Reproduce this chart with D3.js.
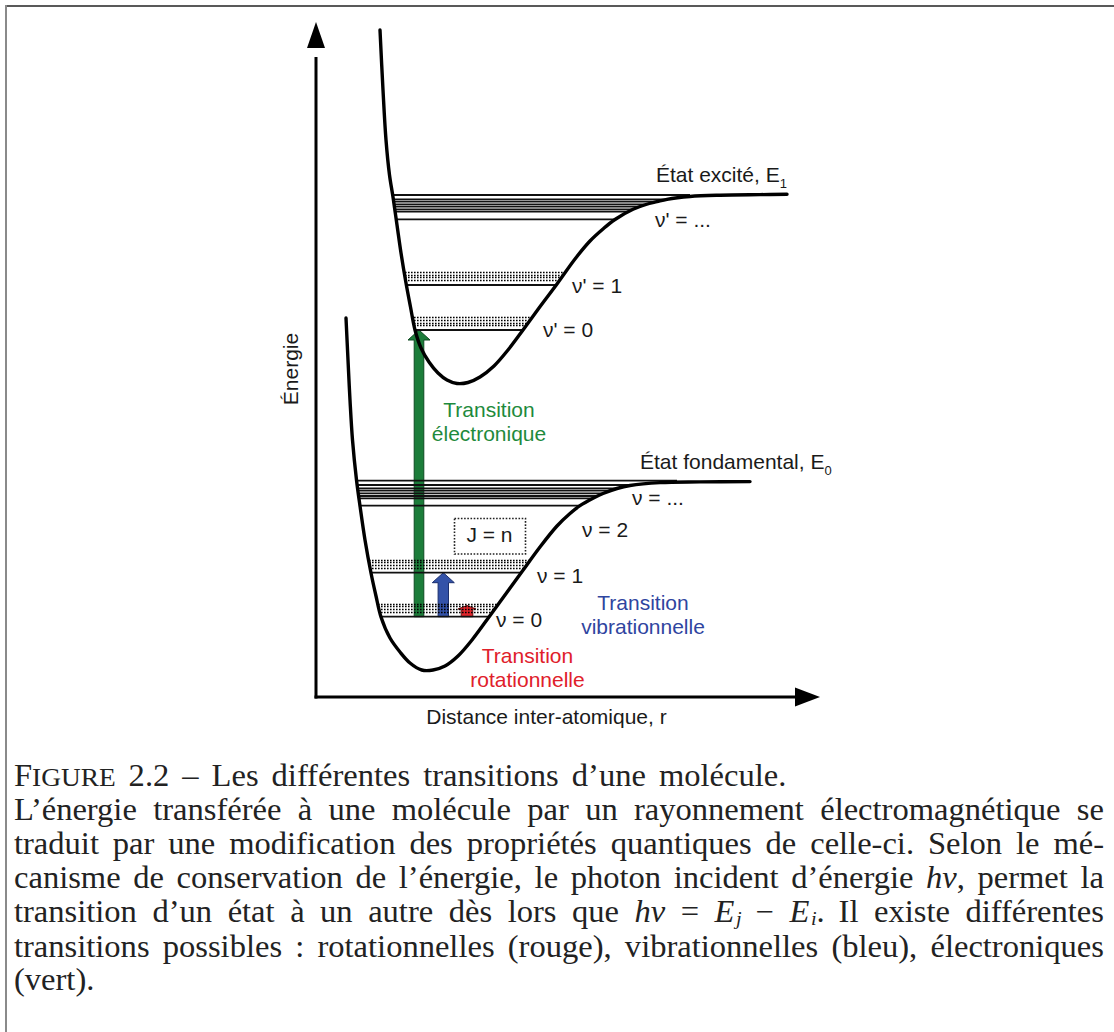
<!DOCTYPE html>
<html lang="fr">
<head>
<meta charset="utf-8">
<title>Transitions d’une molécule</title>
<script src="https://cdn.jsdelivr.net/npm/d3@7/dist/d3.min.js"></script>
<style>
  html, body { margin: 0; padding: 0; background: #fff; }
  svg { display: block; }
</style>
</head>
<body>
<svg id="fig" width="1114" height="1032"></svg>
<script>
// ---------- Data: potential curves as (r, E) pairs, arbitrary units ----------
const excitedCurve = [
  [64,667],[67,607],[70,557],[73.5,522],[77,500],[81,472],[85,444],[90,414],
  [94.5,390],[99,367],[105,349],[113,335],[122,324],[131,317],[141,313.5],
  [152,314.5],[164,320],[178,331],[192,347],[207,367],[223,389],[241,413],
  [259,438],[274,456],[287,468],[299,477.5],[317,487.7],[330,492.5],
  [341,495.3],[351,497.7],[374,500.5],[404,501.8],[444,502.4],[471,502.7]
];
const groundCurve = [
  [30,379],[32,337],[34,297],[36.5,257],[40.5,217],[44,191],[49,157],[55,124],
  [60,101],[65,80],[74,59],[84,45],[94,34],[105.7,27],[117,27],[129,31],
  [142,41],[156,57],[173,80],[189,102],[205,124],[224,150],[241,171],
  [254,183.5],[264,191.3],[277,198.7],[287,203.5],[301,208.5],[314,211.5],
  [344,214.4],[384,215.1],[434,215.4]
];

// Vibrational levels (E); each limit is [E, r where the dissociation line stops]
const excitedLevels = [367, 412, 477.7, 485.3, 487.7, 490.3, 492.7, 495.3, 497.7];
const excitedLimit = [502, 374];
const groundLevels = [80.3, 124.3, 191.3, 198.7, 201, 203.7, 206.3, 208.7, 212];
const groundLimit = [216.3, 361];

// Rotational sub-levels drawn as dotted rows above v = 0 and v = 1
const excitedRotBands = [[372, 374.3, 377, 380.3], [417, 419.7, 422, 425.3]];
const groundRotBands = [[85.3, 88, 90.7, 93.5], [129.3, 132, 134.8, 137.5]];

// Transitions: position r, start level E, end level E
const transitionNames = ["électronique", "vibrationnelle", "rotationnelle"];
const transitionR = [103, 127.3, 151];
const transitionFrom = [80.3, 80.3, 80.3];
const transitionTo = [367, 124.3, 91.5];

// Level labels
const groundLabels = ["ν = 0", "ν = 1", "ν = 2", "ν = ..."];
const excitedLabels = ["ν' = 0", "ν' = 1", "ν' = ..."];

// Caption text
const captionTitle = ["F{IGURE}", "2.2", "–", "Les", "différentes", "transitions", "d’une", "molécule."];
const captionLines = [
  "L’énergie transférée à une molécule par un rayonnement électromagnétique se",
  "traduit par une modification des propriétés quantiques de celle-ci. Selon le mé-",
  "canisme de conservation de l’énergie, le photon incident d’énergie *hν*, permet la",
  "transition d’un état à un autre dès lors que *hν* = *E*_j − *E*_i. Il existe différentes",
  "transitions possibles : rotationnelles (rouge), vibrationnelles (bleu), électroniques",
  "(vert)."
];

// ---------- Drawing ----------
const svg = d3.select("#fig");
const sans = "'Liberation Sans', Arial, sans-serif";
const serif = "'Liberation Serif', 'Times New Roman', serif";
const ink = "#1a1a1a";

const x = d3.scaleLinear().domain([0, 500]).range([316, 816]);
const y = d3.scaleLinear().domain([0, 675]).range([697, 22]);

// Frame around figure
svg.append("line").attr("x1", 5).attr("x2", 1114).attr("y1", 6).attr("y2", 6)
  .attr("stroke", "#222").attr("stroke-width", 1.4);
svg.append("line").attr("x1", 6).attr("x2", 6).attr("y1", 5).attr("y2", 1032)
  .attr("stroke", "#8a8a8a").attr("stroke-width", 2);

const chart = svg.append("g");

// Potential curve paths
const lineGen = d3.line().x(d => x(d[0])).y(d => y(d[1])).curve(d3.curveCatmullRom.alpha(0.5));
const curveLayer = chart.append("g").attr("class", "curves");
const excitedPath = curveLayer.append("path").datum(excitedCurve).attr("d", lineGen);
const groundPath = curveLayer.append("path").datum(groundCurve).attr("d", lineGen);

function sample(pathNode, n) {
  const L = pathNode.getTotalLength();
  const pts = [];
  for (let i = 0; i <= n; i++) {
    const p = pathNode.getPointAtLength(L * i / n);
    pts.push([p.x, p.y]);
  }
  return pts;
}
// left / right intersections of a horizontal line with a well-shaped curve
function crossings(pts, py) {
  const iMin = d3.maxIndex(pts, p => p[1]);
  let left = null, right = null;
  for (let i = 0; i < iMin; i++) {
    const a = pts[i], b = pts[i + 1];
    if ((a[1] - py) * (b[1] - py) <= 0 && a[1] !== b[1]) {
      left = a[0] + (b[0] - a[0]) * (py - a[1]) / (b[1] - a[1]); break;
    }
  }
  for (let i = pts.length - 2; i >= iMin; i--) {
    const a = pts[i], b = pts[i + 1];
    if ((a[1] - py) * (b[1] - py) <= 0 && a[1] !== b[1]) {
      right = a[0] + (b[0] - a[0]) * (py - a[1]) / (b[1] - a[1]);
    }
  }
  return [left, right];
}
const excitedPts = sample(excitedPath.node(), 3000);
const groundPts = sample(groundPath.node(), 3000);

// Transition arrows (beneath the levels)
const arrowFill = ["#1c7d3a", "#3352a8", "#e2252b"];
const arrowEdge = ["#0e4a22", "#1b2f6e", "#6a1010"];
const arrowShaft = [4.8, 5.2, 5.8];
const arrowHead = [[11, 10], [11, 10], [9, 3.5]];
const arrowLayer = chart.append("g");
transitionNames.forEach((name, i) => {
  const cx = x(transitionR[i]), y0 = y(transitionFrom[i]), y1 = y(transitionTo[i]);
  const sh = arrowShaft[i], hh = arrowHead[i][0], hl = arrowHead[i][1];
  const pts = [[cx - sh, y0], [cx - sh, y1 + hl], [cx - hh, y1 + hl], [cx, y1],
               [cx + hh, y1 + hl], [cx + sh, y1 + hl], [cx + sh, y0]];
  arrowLayer.append("polygon").attr("points", pts.map(p => p.join(",")).join(" "))
    .attr("fill", arrowFill[i]).attr("stroke", arrowEdge[i]).attr("stroke-width", 1)
    .attr("stroke-linejoin", "miter");
});

// Vibrational levels
const levelLayer = chart.append("g");
function drawLevels(levels, limit, pts) {
  levels.forEach(E => {
    const [l, r] = crossings(pts, y(E));
    levelLayer.append("line").attr("x1", l).attr("x2", r).attr("y1", y(E)).attr("y2", y(E))
      .attr("stroke", "#111").attr("stroke-width", 1.8);
  });
  const [l] = crossings(pts, y(limit[0]));
  levelLayer.append("line").attr("x1", l).attr("x2", x(limit[1]))
    .attr("y1", y(limit[0])).attr("y2", y(limit[0]))
    .attr("stroke", "#111").attr("stroke-width", 1.8);
}
drawLevels(excitedLevels, excitedLimit, excitedPts);
drawLevels(groundLevels, groundLimit, groundPts);

// Rotational sub-levels: dotted rows on a common dot grid
const dotPeriod = 3;
function drawBands(bands, pts) {
  bands.forEach(rows => rows.forEach(E => {
    const py = Math.round(y(E)) + 0.5;
    const [l, r] = crossings(pts, y(E));
    levelLayer.append("line").attr("x1", l).attr("x2", r).attr("y1", py).attr("y2", py)
      .attr("stroke", "#000").attr("stroke-width", 1.4)
      .attr("stroke-dasharray", "1.6,1.4")
      .attr("stroke-dashoffset", ((l % dotPeriod) + dotPeriod) % dotPeriod);
  }));
}
drawBands(excitedRotBands, excitedPts);
drawBands(groundRotBands, groundPts);

// Curves on top
curveLayer.raise();
curveLayer.selectAll("path").attr("fill", "none").attr("stroke", "#000")
  .attr("stroke-width", 3.4).attr("stroke-linecap", "round");

// Axes with arrow heads
const axes = chart.append("g");
axes.append("line").attr("x1", x(0)).attr("x2", x(0)).attr("y1", y(0) + 1.5).attr("y2", y(640))
  .attr("stroke", "#000").attr("stroke-width", 3);
axes.append("polygon").attr("points",
  [[x(0), y(675)], [x(0) - 9, y(649)], [x(0) + 9, y(649)]].map(p => p.join(",")).join(" "))
  .attr("fill", "#000");
axes.append("line").attr("x1", x(0) - 1.5).attr("x2", x(484)).attr("y1", y(0)).attr("y2", y(0))
  .attr("stroke", "#000").attr("stroke-width", 3);
axes.append("polygon").attr("points",
  [[x(504), y(0)], [x(479), y(0) - 9.5], [x(479), y(0) + 9.5]].map(p => p.join(",")).join(" "))
  .attr("fill", "#000");

// Text helpers
function label(txt, px, py, opt = {}) {
  const t = chart.append("text").attr("x", px).attr("y", py)
    .attr("font-family", sans).attr("font-size", opt.size || 21)
    .attr("fill", opt.color || ink).attr("text-anchor", opt.anchor || "start");
  if (opt.sub !== undefined) {
    t.append("tspan").text(txt);
    t.append("tspan").text(opt.sub).attr("font-size", 13).attr("dy", 6);
  } else t.text(txt);
  return t;
}

chart.append("text").attr("transform", `translate(298,369) rotate(-90)`)
  .attr("font-family", sans).attr("font-size", 21).attr("fill", ink)
  .attr("text-anchor", "middle").text("Énergie");
label("Distance inter-atomique, r", x(230.5), 724, { anchor: "middle" });

label("État excité, E", 656, 182, { sub: "1" });
label("État fondamental, E", 640, 469, { sub: "0" });

// vibrational level labels
label(excitedLabels[0], 543, 337);
label(excitedLabels[1], 572, 293);
label(excitedLabels[2], 655, 227);
label(groundLabels[0], 496, 627);
label(groundLabels[1], 537, 583);
label(groundLabels[2], 582, 537);
label(groundLabels[3], 632, 505);

// J = n box
chart.append("rect").attr("x", 454.5).attr("y", 518.5).attr("width", 71).attr("height", 35.5)
  .attr("fill", "none").attr("stroke", "#222").attr("stroke-width", 1.6)
  .attr("stroke-dasharray", "1.6,1.6");
label("J = n", 489.5, 542, { anchor: "middle" });

// Transition labels
const textColor = ["#1e8a3c", "#2f45a0", "#e0202a"];
const textPos = [[489, 417], [643, 610], [527.5, 663]];
transitionNames.forEach((name, i) => {
  label("Transition", textPos[i][0], textPos[i][1], { anchor: "middle", color: textColor[i] });
  label(name, textPos[i][0], textPos[i][1] + 23.5, { anchor: "middle", color: textColor[i] });
});

// ---------- Caption (justified, one text element per line) ----------
const capSize = 31, capScale = 1.05;
const capLeft = 14, capRight = 1104;
const capBase = [786, 820, 854, 888, 922, 957, 990];
const subSize = 0.62, subDrop = 2.5;
const cap = svg.append("g").attr("font-family", serif).attr("font-size", capSize).attr("fill", "#222");

function segments(word) {
  const segs = []; let italic = false, buf = "";
  for (let i = 0; i < word.length; i++) {
    const c = word[i];
    if (c === "*") { if (buf) segs.push({ t: buf, it: italic }); buf = ""; italic = !italic; }
    else if (c === "_") { if (buf) segs.push({ t: buf, it: italic }); buf = ""; segs.push({ t: word[i + 1], it: true, sub: true }); i++; }
    else if (c === "{") { if (buf) segs.push({ t: buf, it: italic }); buf = ""; }
    else if (c === "}") { segs.push({ t: buf, sc: true }); buf = ""; }
    else buf += c;
  }
  if (buf) segs.push({ t: buf, it: italic });
  return segs;
}
// writes the tspans of one word into a text element; the first tspan may carry x / y
function writeWord(t, word, xPos) {
  let shifted = false;
  segments(word).forEach((s, k) => {
    const ts = t.append("tspan").text(s.t);
    if (k === 0 && xPos !== undefined) ts.attr("x", xPos).attr("y", 0);
    if (s.it) ts.attr("font-style", "italic");
    if (s.sc) ts.attr("font-size", capSize * 0.84);
    if (s.sub) { ts.attr("font-size", capSize * subSize).attr("dx", 1.5).attr("dy", subDrop); shifted = true; }
    else if (shifted) { ts.attr("dy", -subDrop); shifted = false; }
  });
}
function wordWidth(word) {
  const t = cap.append("text");
  writeWord(t, word);
  const w = t.node().getComputedTextLength() * capScale;
  t.remove();
  return w;
}
function placeLine(words, base, justify, raggedGap) {
  const widths = words.map(wordWidth);
  const total = d3.sum(widths);
  const gap = justify ? (capRight - capLeft - total) / (words.length - 1) : raggedGap;
  const t = cap.append("text").attr("transform", `translate(${capLeft},${base}) scale(${capScale},1)`);
  let cx = 0;
  words.forEach((w, i) => {
    writeWord(t, w, cx / capScale);
    cx += widths[i] + gap;
  });
}
placeLine(captionTitle, capBase[0], false, 13);
captionLines.forEach((line, i) => {
  placeLine(line.split(" "), capBase[i + 1], i < captionLines.length - 1, 10);
});
</script>
</body>
</html>
